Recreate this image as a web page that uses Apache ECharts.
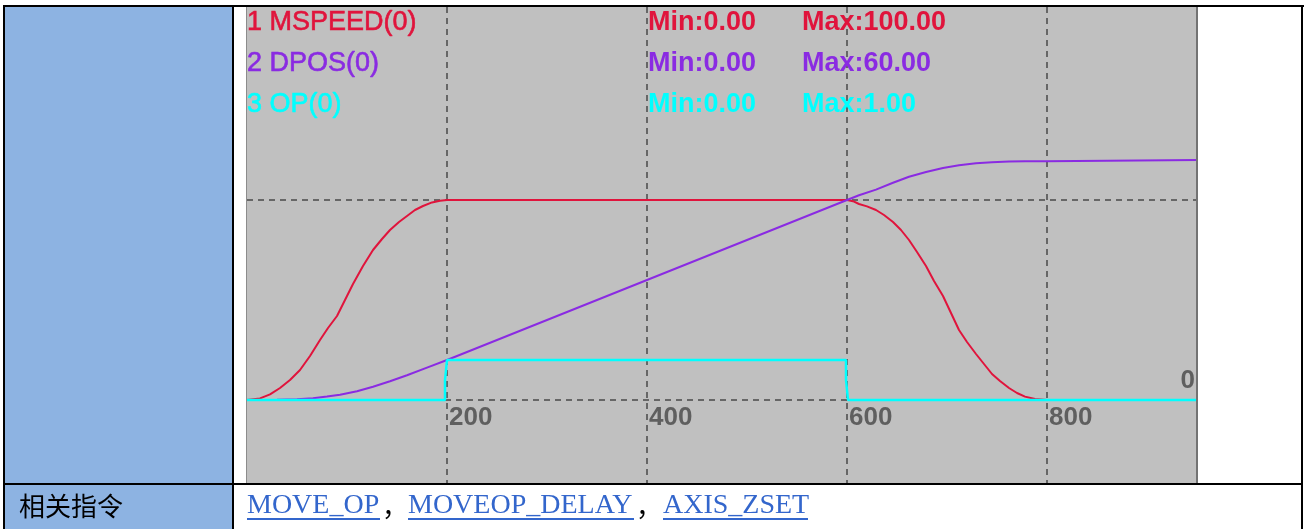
<!DOCTYPE html>
<html>
<head>
<meta charset="utf-8">
<script src="https://cdn.jsdelivr.net/npm/echarts@6/dist/echarts.min.js"></script>
<style>
html,body{margin:0;padding:0;background:#fff;}
#chart{width:1305px;height:529px;}
</style>
</head>
<body>
<div id="chart"></div>
<script>
// ---- data (time in ms) ----
const mspeedT = [0, 13, 23, 33, 43, 53, 63, 73, 81, 90, 98, 106, 116, 126, 135, 143, 152, 160, 168, 176, 185, 193, 200, 600, 606, 612, 620, 629, 637, 646, 654, 662, 670, 679, 687, 696, 704, 712, 720, 729, 737, 745, 753, 762, 770, 778, 788, 800, 951];
const mspeedV = [0, 0.8, 2.8, 6, 10, 15, 22, 30, 36, 42, 50, 58, 67, 75, 80.5, 85, 89, 92, 95, 97, 98.8, 99.6, 100, 100, 99.4, 98, 96.8, 95, 92.5, 89, 85, 80, 74, 67, 59.5, 52, 43.5, 35, 29, 23, 18, 13, 9.5, 6, 3.5, 1.7, 0.5, 0, 0];
const dposT = [0, 13, 30, 50, 66, 80, 93, 110, 126, 143, 160, 180, 200, 300, 400, 500, 600, 612, 629, 646, 662, 679, 696, 712, 729, 745, 762, 778, 799, 800, 951];
const dposV = [0, 0, 0.05, 0.2, 0.45, 0.85, 1.3, 2.2, 3.3, 4.7, 6.2, 8.1, 10, 20, 30, 40, 50, 51.2, 52.6, 54.3, 55.8, 57.0, 58.0, 58.7, 59.2, 59.45, 59.6, 59.7, 59.7, 60, 60];
const opT = [0, 198, 198, 200, 200, 599, 599, 601, 601, 951];
const opV = [0, 0, 0.5, 0.5, 1, 1, 0.5, 0.5, 0, 0];
const legendNames = ['1 MSPEED(0)', '2 DPOS(0)', '3 OP(0)'];
const minTexts = ['Min:0.00', 'Min:0.00', 'Min:0.00'];
const maxTexts = ['Max:100.00', 'Max:60.00', 'Max:1.00'];
const xTickLabels = [200, 400, 600, 800];
const rowLabel = '相关指令';
const links = ['MOVE_OP', 'MOVEOP_DELAY', 'AXIS_ZSET'];

const colors = ['#e0143c', '#8a2be2', '#00ffff'];
const zip = (a, b) => a.map((v, i) => [v, b[i]]);

const chart = echarts.init(document.getElementById('chart'), null, {renderer: 'canvas'});

const graphics = [];
// table cells & borders
graphics.push({type: 'rect', z: -5, shape: {x: 5, y: 7, width: 227, height: 522}, style: {fill: '#8db3e2'}});
const blk = (x, y, w, h) => graphics.push({type: 'rect', z: 50, shape: {x, y, width: w, height: h}, style: {fill: '#000'}});
blk(3, 5, 1301, 2);      // top
blk(3, 5, 2, 524);       // left
blk(1301, 5, 2, 524);    // right
blk(232, 5, 2, 524);     // middle
blk(3, 483, 1300, 2);    // row separator
// gray area border accents
graphics.push({type: 'rect', z: 40, shape: {x: 1196, y: 7, width: 2, height: 476}, style: {fill: '#737373'}});
graphics.push({type: 'rect', z: 40, shape: {x: 246, y: 7, width: 1, height: 476}, style: {fill: '#8c8c8c'}});

// legend rows
const rowY = [23, 64, 105];
legendNames.forEach((n, i) => {
  graphics.push({type: 'text', z: 60, style: {text: n, x: 247, y: rowY[i], fill: colors[i], font: '27px "Liberation Sans", Arial, sans-serif', textVerticalAlign: 'middle', stroke: colors[i], lineWidth: 0.6}});
  graphics.push({type: 'text', z: 60, style: {text: minTexts[i], x: 648, y: rowY[i], fill: colors[i], font: 'bold 27px "Liberation Sans", Arial, sans-serif', textVerticalAlign: 'middle'}});
  graphics.push({type: 'text', z: 60, style: {text: maxTexts[i], x: 802, y: rowY[i], fill: colors[i], font: 'bold 27px "Liberation Sans", Arial, sans-serif', textVerticalAlign: 'middle'}});
});

// bottom row
graphics.push({type: 'text', z: 60, style: {text: rowLabel, x: 19, y: 506, fill: '#000', font: '26px "Noto Sans CJK SC", sans-serif', textVerticalAlign: 'middle'}});
const linkX = [247, 408, 663];
const linkEnd = [380, 634, 808];
links.forEach((t, i) => {
  graphics.push({type: 'text', z: 60, style: {text: t, x: linkX[i], y: 506, fill: '#3366cc', font: '28px "Liberation Serif", "Times New Roman", serif', textVerticalAlign: 'middle'}});
  graphics.push({type: 'rect', z: 60, shape: {x: linkX[i], y: 518, width: linkEnd[i] - linkX[i], height: 2}, style: {fill: '#3366cc'}});
  if (i < links.length - 1) {
    graphics.push({type: 'text', z: 60, style: {text: '，', x: linkEnd[i] + 2, y: 506, fill: '#000', font: '26px "Noto Sans CJK SC", sans-serif', textVerticalAlign: 'middle'}});
  }
});

const gridLineStyle = {color: '#666666', width: 2, type: [6, 5]};
const tickFont = {color: '#5f5f5f', fontWeight: 'bold', fontSize: 26, fontFamily: '"Liberation Sans", Arial, sans-serif'};

chart.setOption({
  animation: false,
  backgroundColor: '#ffffff',
  grid: [
    {left: 247, right: 107, top: 7, bottom: 46, show: true, backgroundColor: '#c0c0c0', borderWidth: 0},
    // label band: its bottom edge sits on the zero line of the main plot
    {left: 247, right: 107, top: 7, bottom: 129, show: false}
  ],
  xAxis: [
    {type: 'value', gridIndex: 0, min: 0, max: 951, interval: 200,
      axisLine: {show: false}, axisTick: {show: false}, axisLabel: {show: false},
      splitLine: {show: true, showMinLine: false, showMaxLine: false, lineStyle: gridLineStyle}},
    {type: 'value', gridIndex: 1, min: 0, max: 951, interval: 200, position: 'bottom',
      axisLine: {show: false}, axisTick: {show: false}, splitLine: {show: false},
      axisLabel: Object.assign({align: 'left', verticalAlign: 'top', margin: 5, padding: [0, 0, 0, 2],
        formatter: v => (xTickLabels.indexOf(v) >= 0 ? String(v) : '')}, tickFont)}
  ],
  yAxis: [
    {type: 'value', gridIndex: 0, min: -41.5, max: 196.5, position: 'right',
      axisLine: {show: false}, axisTick: {show: false}, splitLine: {show: false},
      axisLabel: Object.assign({inside: true, margin: 3, verticalAlign: 'bottom', padding: [0, 0, 6, 0],
        formatter: v => (v === 0 ? '0' : '')}, tickFont)},
    {type: 'value', gridIndex: 0, min: -20.75, max: 98.25, show: false},
    {type: 'value', gridIndex: 0, min: -2.075, max: 9.825, show: false},
    {type: 'value', gridIndex: 1, min: 0, max: 1, show: false}
  ],
  series: [
    {type: 'line', xAxisIndex: 0, yAxisIndex: 0, z: 1, silent: true, symbol: 'none', data: [[0, 0], [951, 0]], lineStyle: gridLineStyle},
    {type: 'line', xAxisIndex: 0, yAxisIndex: 0, z: 1, silent: true, symbol: 'none', data: [[0, 100], [951, 100]], lineStyle: gridLineStyle},
    {name: 'MSPEED', type: 'line', xAxisIndex: 0, yAxisIndex: 0, z: 3, symbol: 'none', data: zip(mspeedT, mspeedV), lineStyle: {color: colors[0], width: 2}},
    {name: 'DPOS', type: 'line', xAxisIndex: 0, yAxisIndex: 1, z: 4, symbol: 'none', data: zip(dposT, dposV), lineStyle: {color: colors[1], width: 2}},
    {name: 'OP', type: 'line', xAxisIndex: 0, yAxisIndex: 2, z: 5, symbol: 'none', data: zip(opT, opV), lineStyle: {color: colors[2], width: 2.5}}
  ],
  graphic: graphics
});
</script>
</body>
</html>
